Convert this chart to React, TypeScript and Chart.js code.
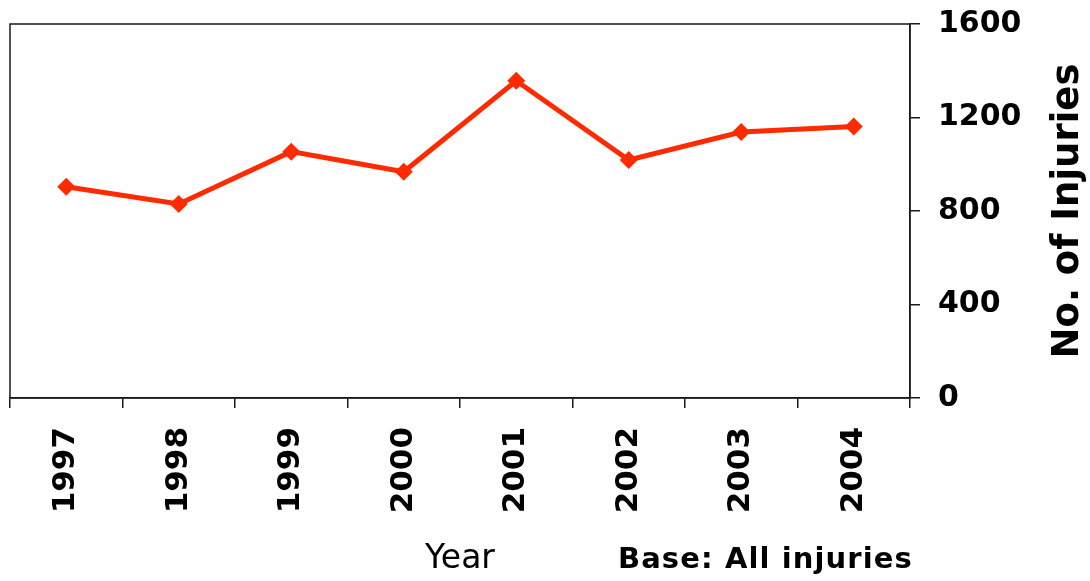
import { useEffect, useRef } from 'react';
import { Chart, registerables } from 'chart.js';

Chart.register(...registerables);

const years = ['1997', '1998', '1999', '2000', '2001', '2002', '2003', '2004'];
const injuries = [904, 830, 1054, 968, 1357, 1018, 1138, 1161];
const yMin = 0;
const yMax = 1600;
const yStep = 400;
const yTitle = 'No. of Injuries';
const xTitle = 'Year';
const baseNote = 'Base: All injuries';

const FONT = '"DejaVu Sans", Verdana, sans-serif';
const LINE_COLOR = '#ff2a00';
const AXIS_COLOR = '#1a1a1a';

const decor = {
  id: 'decor',
  beforeDraw(chart: any) {
    const { ctx, width, height } = chart;
    ctx.save();
    ctx.fillStyle = '#ffffff';
    ctx.fillRect(0, 0, width, height);
    ctx.restore();
  },
  beforeDatasetsDraw(chart: any) {
    const { ctx, chartArea: a } = chart;
    ctx.save();
    ctx.strokeStyle = AXIS_COLOR;
    ctx.lineWidth = 1.5;
    ctx.strokeRect(a.left, a.top, a.right - a.left, a.bottom - a.top);
    ctx.restore();
  },
  afterDraw(chart: any) {
    const { ctx, chartArea: a } = chart;
    ctx.save();
    ctx.fillStyle = '#000000';
    // y title (reads bottom to top)
    ctx.save();
    ctx.translate(1068, (a.top + a.bottom) / 2);
    ctx.rotate(-Math.PI / 2);
    ctx.font = `bold 37px ${FONT}`;
    ctx.textAlign = 'center';
    ctx.textBaseline = 'middle';
    ctx.fillText(yTitle, 0, 0);
    ctx.restore();
    // x title
    ctx.font = `33px ${FONT}`;
    ctx.textAlign = 'center';
    ctx.textBaseline = 'alphabetic';
    ctx.fillText(xTitle, (a.left + a.right) / 2, 568);
    // base note
    ctx.font = `bold 29px ${FONT}`;
    ctx.textAlign = 'left';
    (ctx as any).letterSpacing = '1.1px';
    ctx.fillText(baseNote, 618, 568);
    ctx.restore();
  },
};

export default function App() {
  const ref = useRef<HTMLCanvasElement | null>(null);

  useEffect(() => {
    if (!ref.current) return;
    const chart = new Chart(ref.current, {
      type: 'line',
      data: {
        labels: years,
        datasets: [
          {
            data: injuries,
            borderColor: LINE_COLOR,
            backgroundColor: LINE_COLOR,
            borderWidth: 5,
            pointStyle: 'rectRot',
            pointRadius: 9,
            pointBorderWidth: 0,
            pointBackgroundColor: LINE_COLOR,
            tension: 0,
            fill: false,
          },
        ],
      },
      options: {
        responsive: false,
        animation: false,
        events: [],
        layout: { padding: { left: 10, top: 24, right: 0, bottom: 0 } },
        plugins: {
          legend: { display: false },
          title: { display: false },
          tooltip: { enabled: false },
        },
        scales: {
          x: {
            type: 'category',
            offset: true,
            grid: {
              offset: true,
              drawOnChartArea: false,
              tickLength: 10,
              color: AXIS_COLOR,
              lineWidth: 1.5,
            },
            border: { color: AXIS_COLOR, width: 1.5 },
            ticks: {
              autoSkip: false,
              minRotation: 90,
              maxRotation: 90,
              padding: 19,
              color: '#000000',
              font: { family: FONT, weight: 'bold', size: 31 },
            },
            afterFit: (s: any) => {
              s.height = 183;
              s.paddingLeft = 0;
              s.paddingRight = 0;
            },
          },
          y: {
            position: 'right',
            min: yMin,
            max: yMax,
            grid: {
              drawOnChartArea: false,
              tickLength: 10,
              color: AXIS_COLOR,
              lineWidth: 1.5,
            },
            border: { color: AXIS_COLOR, width: 1.5 },
            ticks: {
              stepSize: yStep,
              padding: 18,
              color: '#000000',
              font: { family: FONT, weight: 'bold', size: 30 },
              callback: (v: any) => String(v),
            },
            afterFit: (s: any) => {
              s.width = 180;
              s.paddingTop = 0;
              s.paddingBottom = 0;
            },
          },
        },
      },
      plugins: [decor],
    });
    return () => chart.destroy();
  }, []);

  return (
    <div style={{ position: 'absolute', left: 0, top: 0, width: 1090, height: 581 }}>
      <canvas ref={ref} width={1090} height={581} style={{ display: 'block', width: 1090, height: 581 }} />
    </div>
  );
}
